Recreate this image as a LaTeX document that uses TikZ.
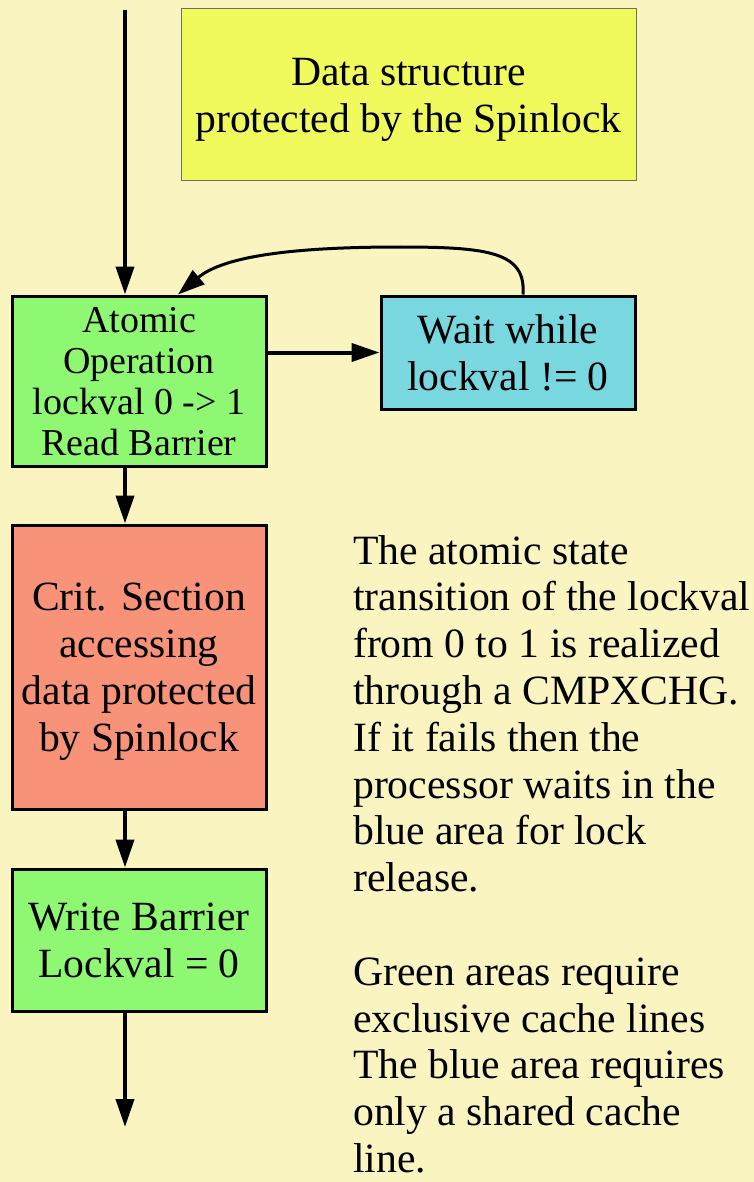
\documentclass[tikz,border=0pt]{standalone}
\usepackage{fontspec}
\setmainfont{Liberation Serif}
\usetikzlibrary{arrows.meta,calc}

\definecolor{paper}{HTML}{FAF5C0}
\definecolor{datayellow}{HTML}{F0FA5C}
\definecolor{greenbox}{HTML}{8EF873}
\definecolor{bluebox}{HTML}{79D7E0}
\definecolor{redbox}{HTML}{F8937A}
\definecolor{dataedge}{HTML}{707060}

\begin{document}
\begin{tikzpicture}[x=1pt, y=-1pt,
  box/.style={draw=black, line width=3pt, align=center, inner sep=0pt,
    text depth=0pt, font=\fontsize{41.6}{47}\selectfont},
  flow/.style={line width=4pt, -{Triangle[length=28pt,width=18pt]}},
  retry/.style={line width=3pt, -{Triangle[length=27pt,width=18pt]}},
]
% page background
\fill[paper] (0,0) rectangle (754,1182);
\useasboundingbox (0,0) rectangle (754,1182);

% boxes
\node[box, fill=datayellow, draw=dataedge, line width=1pt,
  minimum width=455pt, minimum height=172pt] (data) at (408.5,95)
  {Data structure\\protected by the Spinlock};

\node[box, fill=greenbox, minimum width=254pt, minimum height=170pt,
  font=\fontsize{38}{41}\selectfont] (atomic) at (139,381)
  {Atomic\\Operation\\lockval 0 -> 1\\Read Barrier};

\node[box, fill=bluebox, minimum width=254pt, minimum height=113pt]
  (wait) at (508,352.5) {Wait while\\lockval != 0};

\node[box, fill=redbox, minimum width=254pt, minimum height=284pt]
  (crit) at (139,667) {Crit. Section\\accessing\\data protected\\by Spinlock};

\node[box, fill=greenbox, minimum width=254pt, minimum height=142pt]
  (release) at (139,940) {Write Barrier\\Lockval = 0};

% explanatory text
\node[anchor=north west, align=left, inner sep=0pt,
  font=\fontsize{41.7}{46.8}\selectfont] (note) at (353,535)
  {The atomic state\\
   transition of the lockval\\
   from 0 to 1 is realized\\
   through a CMPXCHG.\\
   If it fails then the\\
   processor waits in the\\
   blue area for lock\\
   release.\\[46.8pt]
   Green areas require\\
   exclusive cache lines\\
   The blue area requires\\
   only a shared cache\\
   line.};

% control flow
\coordinate (src) at (125,10);
\coordinate (sink) at (125,1127);
\draw[flow] (src) -- (src |- atomic.north);
\draw[flow] (src |- atomic.south) -- (src |- crit.north);
\draw[flow] (src |- crit.south) -- (src |- release.north);
\draw[flow] (src |- release.south) -- (sink);
\draw[flow] (atomic.east |- wait.west) -- (wait.west);
\draw[retry] ($(wait.north)+(15,0)$) .. controls +(3,-42) and +(90,0) .. (400,247)
  .. controls (300,247) and (225,255) .. ($(atomic.north)+(39,0)$);
\end{tikzpicture}
\end{document}
